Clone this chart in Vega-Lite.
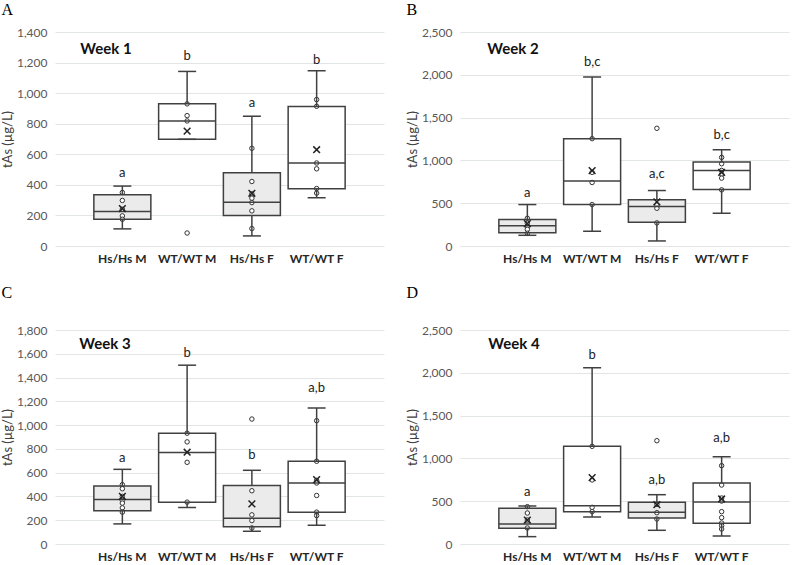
{
  "$schema": "https://vega.github.io/schema/vega-lite/v6.json",
  "background": "white",
  "padding": {"left": 1, "top": 2, "right": 5, "bottom": 3},
  "datasets": {
    "boxes": [
      {"week": 1, "group": "Hs/Hs M", "lo": 112, "q1": 175, "med": 225, "q3": 335, "hi": 392, "mean": 245, "letter": "a", "ly": 475},
      {"week": 1, "group": "WT/WT M", "lo": 698, "q1": 698, "med": 818, "q3": 930, "hi": 1142, "mean": 752, "letter": "b", "ly": 1242},
      {"week": 1, "group": "Hs/Hs F", "lo": 66, "q1": 199, "med": 287, "q3": 479, "hi": 849, "mean": 345, "letter": "a", "ly": 936},
      {"week": 1, "group": "WT/WT F", "lo": 315, "q1": 374, "med": 543, "q3": 912, "hi": 1146, "mean": 630, "letter": "b", "ly": 1220},
      {"week": 2, "group": "Hs/Hs M", "lo": 125, "q1": 156, "med": 238, "q3": 309, "hi": 484, "mean": 262, "letter": "a", "ly": 625},
      {"week": 2, "group": "WT/WT M", "lo": 172, "q1": 484, "med": 758, "q3": 1254, "hi": 1973, "mean": 880, "letter": "b,c", "ly": 2148},
      {"week": 2, "group": "Hs/Hs F", "lo": 59, "q1": 277, "med": 461, "q3": 539, "hi": 648, "mean": 516, "letter": "a,c", "ly": 844},
      {"week": 2, "group": "WT/WT F", "lo": 383, "q1": 660, "med": 883, "q3": 980, "hi": 1125, "mean": 860, "letter": "b,c", "ly": 1300},
      {"week": 3, "group": "Hs/Hs M", "lo": 169, "q1": 279, "med": 375, "q3": 487, "hi": 628, "mean": 400, "letter": "a", "ly": 727},
      {"week": 3, "group": "WT/WT M", "lo": 307, "q1": 352, "med": 769, "q3": 932, "hi": 1504, "mean": 772, "letter": "b", "ly": 1606},
      {"week": 3, "group": "Hs/Hs F", "lo": 107, "q1": 146, "med": 217, "q3": 493, "hi": 620, "mean": 338, "letter": "b", "ly": 747},
      {"week": 3, "group": "WT/WT F", "lo": 158, "q1": 268, "med": 513, "q3": 696, "hi": 1144, "mean": 541, "letter": "a,b", "ly": 1310},
      {"week": 4, "group": "Hs/Hs M", "lo": 86, "q1": 183, "med": 234, "q3": 417, "hi": 444, "mean": 280, "letter": "a", "ly": 604},
      {"week": 4, "group": "WT/WT M", "lo": 315, "q1": 378, "med": 448, "q3": 1141, "hi": 2060, "mean": 775, "letter": "b", "ly": 2212},
      {"week": 4, "group": "Hs/Hs F", "lo": 160, "q1": 304, "med": 370, "q3": 487, "hi": 576, "mean": 459, "letter": "a,b", "ly": 752},
      {"week": 4, "group": "WT/WT F", "lo": 93, "q1": 241, "med": 491, "q3": 713, "hi": 1020, "mean": 526, "letter": "a,b", "ly": 1238}
    ],
    "points": [
      {"week": 1, "group": "Hs/Hs M", "value": 350}, {"week": 1, "group": "Hs/Hs M", "value": 298}, {"week": 1, "group": "Hs/Hs M", "value": 240}, {"week": 1, "group": "Hs/Hs M", "value": 197}, {"week": 1, "group": "Hs/Hs M", "value": 175},
      {"week": 1, "group": "WT/WT M", "value": 930}, {"week": 1, "group": "WT/WT M", "value": 853}, {"week": 1, "group": "WT/WT M", "value": 818}, {"week": 1, "group": "WT/WT M", "value": 85},
      {"week": 1, "group": "Hs/Hs F", "value": 639}, {"week": 1, "group": "Hs/Hs F", "value": 422}, {"week": 1, "group": "Hs/Hs F", "value": 341}, {"week": 1, "group": "Hs/Hs F", "value": 313}, {"week": 1, "group": "Hs/Hs F", "value": 284}, {"week": 1, "group": "Hs/Hs F", "value": 230}, {"week": 1, "group": "Hs/Hs F", "value": 114},
      {"week": 1, "group": "WT/WT F", "value": 958}, {"week": 1, "group": "WT/WT F", "value": 914}, {"week": 1, "group": "WT/WT F", "value": 543}, {"week": 1, "group": "WT/WT F", "value": 505}, {"week": 1, "group": "WT/WT F", "value": 376}, {"week": 1, "group": "WT/WT F", "value": 346},
      {"week": 2, "group": "Hs/Hs M", "value": 324}, {"week": 2, "group": "Hs/Hs M", "value": 266}, {"week": 2, "group": "Hs/Hs M", "value": 230}, {"week": 2, "group": "Hs/Hs M", "value": 195}, {"week": 2, "group": "Hs/Hs M", "value": 148},
      {"week": 2, "group": "WT/WT M", "value": 1254}, {"week": 2, "group": "WT/WT M", "value": 860}, {"week": 2, "group": "WT/WT M", "value": 742}, {"week": 2, "group": "WT/WT M", "value": 484},
      {"week": 2, "group": "Hs/Hs F", "value": 1375}, {"week": 2, "group": "Hs/Hs F", "value": 480}, {"week": 2, "group": "Hs/Hs F", "value": 441}, {"week": 2, "group": "Hs/Hs F", "value": 270},
      {"week": 2, "group": "WT/WT F", "value": 1035}, {"week": 2, "group": "WT/WT F", "value": 961}, {"week": 2, "group": "WT/WT F", "value": 883}, {"week": 2, "group": "WT/WT F", "value": 840}, {"week": 2, "group": "WT/WT F", "value": 793}, {"week": 2, "group": "WT/WT F", "value": 656},
      {"week": 3, "group": "Hs/Hs M", "value": 499}, {"week": 3, "group": "Hs/Hs M", "value": 465}, {"week": 3, "group": "Hs/Hs M", "value": 400}, {"week": 3, "group": "Hs/Hs M", "value": 366}, {"week": 3, "group": "Hs/Hs M", "value": 344}, {"week": 3, "group": "Hs/Hs M", "value": 304}, {"week": 3, "group": "Hs/Hs M", "value": 268},
      {"week": 3, "group": "WT/WT M", "value": 932}, {"week": 3, "group": "WT/WT M", "value": 859}, {"week": 3, "group": "WT/WT M", "value": 687}, {"week": 3, "group": "WT/WT M", "value": 352},
      {"week": 3, "group": "Hs/Hs F", "value": 1051}, {"week": 3, "group": "Hs/Hs F", "value": 448}, {"week": 3, "group": "Hs/Hs F", "value": 245}, {"week": 3, "group": "Hs/Hs F", "value": 197}, {"week": 3, "group": "Hs/Hs F", "value": 135},
      {"week": 3, "group": "WT/WT F", "value": 1037}, {"week": 3, "group": "WT/WT F", "value": 696}, {"week": 3, "group": "WT/WT F", "value": 535}, {"week": 3, "group": "WT/WT F", "value": 513}, {"week": 3, "group": "WT/WT F", "value": 408}, {"week": 3, "group": "WT/WT F", "value": 268}, {"week": 3, "group": "WT/WT F", "value": 239},
      {"week": 4, "group": "Hs/Hs M", "value": 436}, {"week": 4, "group": "Hs/Hs M", "value": 362}, {"week": 4, "group": "Hs/Hs M", "value": 280}, {"week": 4, "group": "Hs/Hs M", "value": 187},
      {"week": 4, "group": "WT/WT M", "value": 1141}, {"week": 4, "group": "WT/WT M", "value": 748}, {"week": 4, "group": "WT/WT M", "value": 428}, {"week": 4, "group": "WT/WT M", "value": 378},
      {"week": 4, "group": "Hs/Hs F", "value": 1207}, {"week": 4, "group": "Hs/Hs F", "value": 463}, {"week": 4, "group": "Hs/Hs F", "value": 366}, {"week": 4, "group": "Hs/Hs F", "value": 292},
      {"week": 4, "group": "WT/WT F", "value": 915}, {"week": 4, "group": "WT/WT F", "value": 689}, {"week": 4, "group": "WT/WT F", "value": 537}, {"week": 4, "group": "WT/WT F", "value": 502}, {"week": 4, "group": "WT/WT F", "value": 378}, {"week": 4, "group": "WT/WT F", "value": 308}, {"week": 4, "group": "WT/WT F", "value": 245}, {"week": 4, "group": "WT/WT F", "value": 214}, {"week": 4, "group": "WT/WT F", "value": 175}
    ],
    "weeks": [
      {"week": 1, "group": "Hs/Hs M", "label": "Week 1", "y": 1286},
      {"week": 2, "group": "Hs/Hs M", "label": "Week 2", "y": 2297},
      {"week": 3, "group": "Hs/Hs M", "label": "Week 3", "y": 1682},
      {"week": 4, "group": "Hs/Hs M", "label": "Week 4", "y": 2336}
    ]
  },
  "config": {
    "view": {"stroke": null},
    "font": "Lato",
    "axis": {"domain": false, "ticks": false, "grid": true, "gridColor": "#e2e5e5", "gridWidth": 1},
    "axisY": {"labelColor": "#595959", "labelFont": "Lato", "labelFontSize": 12, "labelPadding": 8, "titleColor": "#404040", "titleFont": "Lato", "titleFontSize": 13, "titleFontWeight": "normal", "titlePadding": 2, "format": ",d"},
    "axisX": {"grid": false, "labelColor": "#262626", "labelFont": "Lato", "labelFontSize": 12, "labelFontWeight": "bold", "labelPadding": 7, "labelAngle": 0},
    "title": {"font": "Liberation Serif", "fontSize": 16, "fontWeight": "normal", "color": "#000000", "anchor": "start", "frame": "bounds"}
  },
  "resolve": {"scale": {"y": "independent", "x": "independent"}},
  "spacing": 21,
  "vconcat": [
    {
      "spacing": 22,
      "resolve": {"scale": {"y": "independent", "x": "independent"}},
      "hconcat": [
        {
          "width": 329, "height": 214,
          "title": {"text": "A", "offset": 8},
          "encoding": {"x": {"field": "group", "type": "nominal", "sort": ["Hs/Hs M", "WT/WT M", "Hs/Hs F", "WT/WT F"], "scale": {"paddingInner": 0.12, "paddingOuter": 0.6}, "axis": {"title": null}}},
          "layer": [
            {"data": {"name": "boxes"}, "transform": [{"filter": "datum.week == 1"}], "mark": {"type": "bar", "strokeWidth": 0}, "encoding": {"y": {"field": "q1", "type": "quantitative", "title": "tAs (µg/L)", "scale": {"domain": [0, 1400], "nice": false}, "axis": {"values": [0, 200, 400, 600, 800, 1000, 1200, 1400], "format": ",d"}}, "y2": {"field": "q3"}, "color": {"field": "group", "type": "nominal", "scale": {"domain": ["Hs/Hs M", "WT/WT M", "Hs/Hs F", "WT/WT F"], "range": ["#ebebeb", "#ffffff", "#ebebeb", "#ffffff"]}, "legend": null}}},
            {"data": {"name": "points"}, "transform": [{"filter": "datum.week == 1"}], "mark": {"type": "point", "shape": "circle", "filled": true, "fill": "white", "stroke": "#333333", "strokeWidth": 1, "size": 20, "opacity": 1}, "encoding": {"y": {"field": "value", "type": "quantitative", "title": "tAs (µg/L)", "axis": {"values": [0, 200, 400, 600, 800, 1000, 1200, 1400], "format": ",d"}}}},
            {"data": {"name": "boxes"}, "transform": [{"filter": "datum.week == 1"}], "mark": {"type": "tick", "size": 57, "thickness": 1.5, "color": "#404040", "opacity": 1}, "encoding": {"y": {"field": "med", "type": "quantitative", "title": "tAs (µg/L)", "axis": {"values": [0, 200, 400, 600, 800, 1000, 1200, 1400], "format": ",d"}}}},
            {"data": {"name": "boxes"}, "transform": [{"filter": "datum.week == 1"}], "mark": {"type": "rule", "strokeWidth": 1.5, "color": "#404040"}, "encoding": {"y": {"field": "lo", "type": "quantitative", "title": "tAs (µg/L)", "axis": {"values": [0, 200, 400, 600, 800, 1000, 1200, 1400], "format": ",d"}}, "y2": {"field": "q1"}}},
            {"data": {"name": "boxes"}, "transform": [{"filter": "datum.week == 1"}], "mark": {"type": "rule", "strokeWidth": 1.5, "color": "#404040"}, "encoding": {"y": {"field": "q3", "type": "quantitative", "title": "tAs (µg/L)", "axis": {"values": [0, 200, 400, 600, 800, 1000, 1200, 1400], "format": ",d"}}, "y2": {"field": "hi"}}},
            {"data": {"name": "boxes"}, "transform": [{"filter": "datum.week == 1"}], "mark": {"type": "bar", "fill": "transparent", "stroke": "#404040", "strokeWidth": 1.5}, "encoding": {"y": {"field": "q1", "type": "quantitative", "title": "tAs (µg/L)", "axis": {"values": [0, 200, 400, 600, 800, 1000, 1200, 1400], "format": ",d"}}, "y2": {"field": "q3"}}},
            {"data": {"name": "boxes"}, "transform": [{"filter": "datum.week == 1"}], "mark": {"type": "tick", "size": 18, "thickness": 1.5, "color": "#404040", "opacity": 1}, "encoding": {"y": {"field": "hi", "type": "quantitative", "title": "tAs (µg/L)", "axis": {"values": [0, 200, 400, 600, 800, 1000, 1200, 1400], "format": ",d"}}}},
            {"data": {"name": "boxes"}, "transform": [{"filter": "datum.week == 1"}], "mark": {"type": "tick", "size": 18, "thickness": 1.5, "color": "#404040", "opacity": 1}, "encoding": {"y": {"field": "lo", "type": "quantitative", "title": "tAs (µg/L)", "axis": {"values": [0, 200, 400, 600, 800, 1000, 1200, 1400], "format": ",d"}}}},
            {"data": {"name": "boxes"}, "transform": [{"filter": "datum.week == 1"}], "mark": {"type": "point", "shape": "M-1,-1L1,1M-1,1L1,-1", "filled": false, "stroke": "#222222", "strokeWidth": 1.5, "size": 45, "opacity": 1}, "encoding": {"y": {"field": "mean", "type": "quantitative", "title": "tAs (µg/L)", "axis": {"values": [0, 200, 400, 600, 800, 1000, 1200, 1400], "format": ",d"}}}},
            {"data": {"name": "boxes"}, "transform": [{"filter": "datum.week == 1"}], "mark": {"type": "text", "fontSize": 13, "color": "#222222", "baseline": "middle", "font": "Lato"}, "encoding": {"y": {"field": "ly", "type": "quantitative", "title": "tAs (µg/L)", "axis": {"values": [0, 200, 400, 600, 800, 1000, 1200, 1400], "format": ",d"}}, "text": {"field": "letter"}}},
            {"data": {"name": "weeks"}, "transform": [{"filter": "datum.week == 1"}], "mark": {"type": "text", "fontSize": 15, "fontWeight": "bold", "color": "#111111", "align": "left", "baseline": "middle", "dx": -42, "font": "Lato"}, "encoding": {"y": {"field": "y", "type": "quantitative", "title": "tAs (µg/L)", "axis": {"values": [0, 200, 400, 600, 800, 1000, 1200, 1400], "format": ",d"}}, "text": {"field": "label"}}}
          ]
        },
        {
          "width": 329, "height": 214,
          "title": {"text": "B", "offset": 8},
          "encoding": {"x": {"field": "group", "type": "nominal", "sort": ["Hs/Hs M", "WT/WT M", "Hs/Hs F", "WT/WT F"], "scale": {"paddingInner": 0.12, "paddingOuter": 0.6}, "axis": {"title": null}}},
          "layer": [
            {"data": {"name": "boxes"}, "transform": [{"filter": "datum.week == 2"}], "mark": {"type": "bar", "strokeWidth": 0}, "encoding": {"y": {"field": "q1", "type": "quantitative", "title": "tAs (µg/L)", "scale": {"domain": [0, 2500], "nice": false}, "axis": {"values": [0, 500, 1000, 1500, 2000, 2500], "format": ",d"}}, "y2": {"field": "q3"}, "color": {"field": "group", "type": "nominal", "scale": {"domain": ["Hs/Hs M", "WT/WT M", "Hs/Hs F", "WT/WT F"], "range": ["#ebebeb", "#ffffff", "#ebebeb", "#ffffff"]}, "legend": null}}},
            {"data": {"name": "points"}, "transform": [{"filter": "datum.week == 2"}], "mark": {"type": "point", "shape": "circle", "filled": true, "fill": "white", "stroke": "#333333", "strokeWidth": 1, "size": 20, "opacity": 1}, "encoding": {"y": {"field": "value", "type": "quantitative", "title": "tAs (µg/L)", "axis": {"values": [0, 500, 1000, 1500, 2000, 2500], "format": ",d"}}}},
            {"data": {"name": "boxes"}, "transform": [{"filter": "datum.week == 2"}], "mark": {"type": "tick", "size": 57, "thickness": 1.5, "color": "#404040", "opacity": 1}, "encoding": {"y": {"field": "med", "type": "quantitative", "title": "tAs (µg/L)", "axis": {"values": [0, 500, 1000, 1500, 2000, 2500], "format": ",d"}}}},
            {"data": {"name": "boxes"}, "transform": [{"filter": "datum.week == 2"}], "mark": {"type": "rule", "strokeWidth": 1.5, "color": "#404040"}, "encoding": {"y": {"field": "lo", "type": "quantitative", "title": "tAs (µg/L)", "axis": {"values": [0, 500, 1000, 1500, 2000, 2500], "format": ",d"}}, "y2": {"field": "q1"}}},
            {"data": {"name": "boxes"}, "transform": [{"filter": "datum.week == 2"}], "mark": {"type": "rule", "strokeWidth": 1.5, "color": "#404040"}, "encoding": {"y": {"field": "q3", "type": "quantitative", "title": "tAs (µg/L)", "axis": {"values": [0, 500, 1000, 1500, 2000, 2500], "format": ",d"}}, "y2": {"field": "hi"}}},
            {"data": {"name": "boxes"}, "transform": [{"filter": "datum.week == 2"}], "mark": {"type": "bar", "fill": "transparent", "stroke": "#404040", "strokeWidth": 1.5}, "encoding": {"y": {"field": "q1", "type": "quantitative", "title": "tAs (µg/L)", "axis": {"values": [0, 500, 1000, 1500, 2000, 2500], "format": ",d"}}, "y2": {"field": "q3"}}},
            {"data": {"name": "boxes"}, "transform": [{"filter": "datum.week == 2"}], "mark": {"type": "tick", "size": 18, "thickness": 1.5, "color": "#404040", "opacity": 1}, "encoding": {"y": {"field": "hi", "type": "quantitative", "title": "tAs (µg/L)", "axis": {"values": [0, 500, 1000, 1500, 2000, 2500], "format": ",d"}}}},
            {"data": {"name": "boxes"}, "transform": [{"filter": "datum.week == 2"}], "mark": {"type": "tick", "size": 18, "thickness": 1.5, "color": "#404040", "opacity": 1}, "encoding": {"y": {"field": "lo", "type": "quantitative", "title": "tAs (µg/L)", "axis": {"values": [0, 500, 1000, 1500, 2000, 2500], "format": ",d"}}}},
            {"data": {"name": "boxes"}, "transform": [{"filter": "datum.week == 2"}], "mark": {"type": "point", "shape": "M-1,-1L1,1M-1,1L1,-1", "filled": false, "stroke": "#222222", "strokeWidth": 1.5, "size": 45, "opacity": 1}, "encoding": {"y": {"field": "mean", "type": "quantitative", "title": "tAs (µg/L)", "axis": {"values": [0, 500, 1000, 1500, 2000, 2500], "format": ",d"}}}},
            {"data": {"name": "boxes"}, "transform": [{"filter": "datum.week == 2"}], "mark": {"type": "text", "fontSize": 13, "color": "#222222", "baseline": "middle", "font": "Lato"}, "encoding": {"y": {"field": "ly", "type": "quantitative", "title": "tAs (µg/L)", "axis": {"values": [0, 500, 1000, 1500, 2000, 2500], "format": ",d"}}, "text": {"field": "letter"}}},
            {"data": {"name": "weeks"}, "transform": [{"filter": "datum.week == 2"}], "mark": {"type": "text", "fontSize": 15, "fontWeight": "bold", "color": "#111111", "align": "left", "baseline": "middle", "dx": -40, "font": "Lato"}, "encoding": {"y": {"field": "y", "type": "quantitative", "title": "tAs (µg/L)", "axis": {"values": [0, 500, 1000, 1500, 2000, 2500], "format": ",d"}}, "text": {"field": "label"}}}
          ]
        }
      ]
    },
    {
      "spacing": 22,
      "resolve": {"scale": {"y": "independent", "x": "independent"}},
      "hconcat": [
        {
          "width": 329, "height": 214,
          "title": {"text": "C", "offset": 23},
          "encoding": {"x": {"field": "group", "type": "nominal", "sort": ["Hs/Hs M", "WT/WT M", "Hs/Hs F", "WT/WT F"], "scale": {"paddingInner": 0.12, "paddingOuter": 0.6}, "axis": {"title": null}}},
          "layer": [
            {"data": {"name": "boxes"}, "transform": [{"filter": "datum.week == 3"}], "mark": {"type": "bar", "strokeWidth": 0}, "encoding": {"y": {"field": "q1", "type": "quantitative", "title": "tAs (µg/L)", "scale": {"domain": [0, 1800], "nice": false}, "axis": {"values": [0, 200, 400, 600, 800, 1000, 1200, 1400, 1600, 1800], "format": ",d"}}, "y2": {"field": "q3"}, "color": {"field": "group", "type": "nominal", "scale": {"domain": ["Hs/Hs M", "WT/WT M", "Hs/Hs F", "WT/WT F"], "range": ["#ebebeb", "#ffffff", "#ebebeb", "#ffffff"]}, "legend": null}}},
            {"data": {"name": "points"}, "transform": [{"filter": "datum.week == 3"}], "mark": {"type": "point", "shape": "circle", "filled": true, "fill": "white", "stroke": "#333333", "strokeWidth": 1, "size": 20, "opacity": 1}, "encoding": {"y": {"field": "value", "type": "quantitative", "title": "tAs (µg/L)", "axis": {"values": [0, 200, 400, 600, 800, 1000, 1200, 1400, 1600, 1800], "format": ",d"}}}},
            {"data": {"name": "boxes"}, "transform": [{"filter": "datum.week == 3"}], "mark": {"type": "tick", "size": 57, "thickness": 1.5, "color": "#404040", "opacity": 1}, "encoding": {"y": {"field": "med", "type": "quantitative", "title": "tAs (µg/L)", "axis": {"values": [0, 200, 400, 600, 800, 1000, 1200, 1400, 1600, 1800], "format": ",d"}}}},
            {"data": {"name": "boxes"}, "transform": [{"filter": "datum.week == 3"}], "mark": {"type": "rule", "strokeWidth": 1.5, "color": "#404040"}, "encoding": {"y": {"field": "lo", "type": "quantitative", "title": "tAs (µg/L)", "axis": {"values": [0, 200, 400, 600, 800, 1000, 1200, 1400, 1600, 1800], "format": ",d"}}, "y2": {"field": "q1"}}},
            {"data": {"name": "boxes"}, "transform": [{"filter": "datum.week == 3"}], "mark": {"type": "rule", "strokeWidth": 1.5, "color": "#404040"}, "encoding": {"y": {"field": "q3", "type": "quantitative", "title": "tAs (µg/L)", "axis": {"values": [0, 200, 400, 600, 800, 1000, 1200, 1400, 1600, 1800], "format": ",d"}}, "y2": {"field": "hi"}}},
            {"data": {"name": "boxes"}, "transform": [{"filter": "datum.week == 3"}], "mark": {"type": "bar", "fill": "transparent", "stroke": "#404040", "strokeWidth": 1.5}, "encoding": {"y": {"field": "q1", "type": "quantitative", "title": "tAs (µg/L)", "axis": {"values": [0, 200, 400, 600, 800, 1000, 1200, 1400, 1600, 1800], "format": ",d"}}, "y2": {"field": "q3"}}},
            {"data": {"name": "boxes"}, "transform": [{"filter": "datum.week == 3"}], "mark": {"type": "tick", "size": 18, "thickness": 1.5, "color": "#404040", "opacity": 1}, "encoding": {"y": {"field": "hi", "type": "quantitative", "title": "tAs (µg/L)", "axis": {"values": [0, 200, 400, 600, 800, 1000, 1200, 1400, 1600, 1800], "format": ",d"}}}},
            {"data": {"name": "boxes"}, "transform": [{"filter": "datum.week == 3"}], "mark": {"type": "tick", "size": 18, "thickness": 1.5, "color": "#404040", "opacity": 1}, "encoding": {"y": {"field": "lo", "type": "quantitative", "title": "tAs (µg/L)", "axis": {"values": [0, 200, 400, 600, 800, 1000, 1200, 1400, 1600, 1800], "format": ",d"}}}},
            {"data": {"name": "boxes"}, "transform": [{"filter": "datum.week == 3"}], "mark": {"type": "point", "shape": "M-1,-1L1,1M-1,1L1,-1", "filled": false, "stroke": "#222222", "strokeWidth": 1.5, "size": 45, "opacity": 1}, "encoding": {"y": {"field": "mean", "type": "quantitative", "title": "tAs (µg/L)", "axis": {"values": [0, 200, 400, 600, 800, 1000, 1200, 1400, 1600, 1800], "format": ",d"}}}},
            {"data": {"name": "boxes"}, "transform": [{"filter": "datum.week == 3"}], "mark": {"type": "text", "fontSize": 13, "color": "#222222", "baseline": "middle", "font": "Lato"}, "encoding": {"y": {"field": "ly", "type": "quantitative", "title": "tAs (µg/L)", "axis": {"values": [0, 200, 400, 600, 800, 1000, 1200, 1400, 1600, 1800], "format": ",d"}}, "text": {"field": "letter"}}},
            {"data": {"name": "weeks"}, "transform": [{"filter": "datum.week == 3"}], "mark": {"type": "text", "fontSize": 15, "fontWeight": "bold", "color": "#111111", "align": "left", "baseline": "middle", "dx": -43, "font": "Lato"}, "encoding": {"y": {"field": "y", "type": "quantitative", "title": "tAs (µg/L)", "axis": {"values": [0, 200, 400, 600, 800, 1000, 1200, 1400, 1600, 1800], "format": ",d"}}, "text": {"field": "label"}}}
          ]
        },
        {
          "width": 329, "height": 214,
          "title": {"text": "D", "offset": 23},
          "encoding": {"x": {"field": "group", "type": "nominal", "sort": ["Hs/Hs M", "WT/WT M", "Hs/Hs F", "WT/WT F"], "scale": {"paddingInner": 0.12, "paddingOuter": 0.6}, "axis": {"title": null}}},
          "layer": [
            {"data": {"name": "boxes"}, "transform": [{"filter": "datum.week == 4"}], "mark": {"type": "bar", "strokeWidth": 0}, "encoding": {"y": {"field": "q1", "type": "quantitative", "title": "tAs (µg/L)", "scale": {"domain": [0, 2500], "nice": false}, "axis": {"values": [0, 500, 1000, 1500, 2000, 2500], "format": ",d"}}, "y2": {"field": "q3"}, "color": {"field": "group", "type": "nominal", "scale": {"domain": ["Hs/Hs M", "WT/WT M", "Hs/Hs F", "WT/WT F"], "range": ["#ebebeb", "#ffffff", "#ebebeb", "#ffffff"]}, "legend": null}}},
            {"data": {"name": "points"}, "transform": [{"filter": "datum.week == 4"}], "mark": {"type": "point", "shape": "circle", "filled": true, "fill": "white", "stroke": "#333333", "strokeWidth": 1, "size": 20, "opacity": 1}, "encoding": {"y": {"field": "value", "type": "quantitative", "title": "tAs (µg/L)", "axis": {"values": [0, 500, 1000, 1500, 2000, 2500], "format": ",d"}}}},
            {"data": {"name": "boxes"}, "transform": [{"filter": "datum.week == 4"}], "mark": {"type": "tick", "size": 57, "thickness": 1.5, "color": "#404040", "opacity": 1}, "encoding": {"y": {"field": "med", "type": "quantitative", "title": "tAs (µg/L)", "axis": {"values": [0, 500, 1000, 1500, 2000, 2500], "format": ",d"}}}},
            {"data": {"name": "boxes"}, "transform": [{"filter": "datum.week == 4"}], "mark": {"type": "rule", "strokeWidth": 1.5, "color": "#404040"}, "encoding": {"y": {"field": "lo", "type": "quantitative", "title": "tAs (µg/L)", "axis": {"values": [0, 500, 1000, 1500, 2000, 2500], "format": ",d"}}, "y2": {"field": "q1"}}},
            {"data": {"name": "boxes"}, "transform": [{"filter": "datum.week == 4"}], "mark": {"type": "rule", "strokeWidth": 1.5, "color": "#404040"}, "encoding": {"y": {"field": "q3", "type": "quantitative", "title": "tAs (µg/L)", "axis": {"values": [0, 500, 1000, 1500, 2000, 2500], "format": ",d"}}, "y2": {"field": "hi"}}},
            {"data": {"name": "boxes"}, "transform": [{"filter": "datum.week == 4"}], "mark": {"type": "bar", "fill": "transparent", "stroke": "#404040", "strokeWidth": 1.5}, "encoding": {"y": {"field": "q1", "type": "quantitative", "title": "tAs (µg/L)", "axis": {"values": [0, 500, 1000, 1500, 2000, 2500], "format": ",d"}}, "y2": {"field": "q3"}}},
            {"data": {"name": "boxes"}, "transform": [{"filter": "datum.week == 4"}], "mark": {"type": "tick", "size": 18, "thickness": 1.5, "color": "#404040", "opacity": 1}, "encoding": {"y": {"field": "hi", "type": "quantitative", "title": "tAs (µg/L)", "axis": {"values": [0, 500, 1000, 1500, 2000, 2500], "format": ",d"}}}},
            {"data": {"name": "boxes"}, "transform": [{"filter": "datum.week == 4"}], "mark": {"type": "tick", "size": 18, "thickness": 1.5, "color": "#404040", "opacity": 1}, "encoding": {"y": {"field": "lo", "type": "quantitative", "title": "tAs (µg/L)", "axis": {"values": [0, 500, 1000, 1500, 2000, 2500], "format": ",d"}}}},
            {"data": {"name": "boxes"}, "transform": [{"filter": "datum.week == 4"}], "mark": {"type": "point", "shape": "M-1,-1L1,1M-1,1L1,-1", "filled": false, "stroke": "#222222", "strokeWidth": 1.5, "size": 45, "opacity": 1}, "encoding": {"y": {"field": "mean", "type": "quantitative", "title": "tAs (µg/L)", "axis": {"values": [0, 500, 1000, 1500, 2000, 2500], "format": ",d"}}}},
            {"data": {"name": "boxes"}, "transform": [{"filter": "datum.week == 4"}], "mark": {"type": "text", "fontSize": 13, "color": "#222222", "baseline": "middle", "font": "Lato"}, "encoding": {"y": {"field": "ly", "type": "quantitative", "title": "tAs (µg/L)", "axis": {"values": [0, 500, 1000, 1500, 2000, 2500], "format": ",d"}}, "text": {"field": "letter"}}},
            {"data": {"name": "weeks"}, "transform": [{"filter": "datum.week == 4"}], "mark": {"type": "text", "fontSize": 15, "fontWeight": "bold", "color": "#111111", "align": "left", "baseline": "middle", "dx": -39, "font": "Lato"}, "encoding": {"y": {"field": "y", "type": "quantitative", "title": "tAs (µg/L)", "axis": {"values": [0, 500, 1000, 1500, 2000, 2500], "format": ",d"}}, "text": {"field": "label"}}}
          ]
        }
      ]
    }
  ]
}
